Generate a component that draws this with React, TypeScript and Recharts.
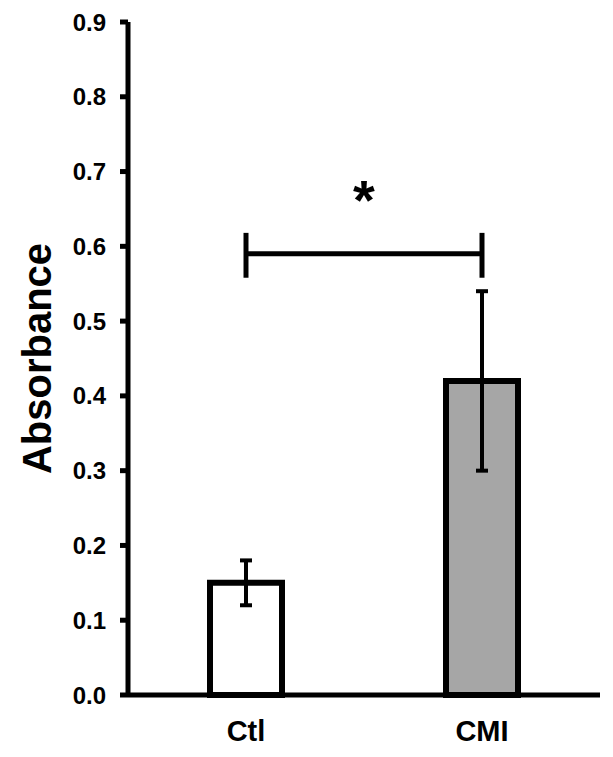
import React from 'react';
import { BarChart, Bar, XAxis, YAxis, Cell, ErrorBar, ReferenceLine } from 'recharts';

const categories = ['Ctl', 'CMI'];
const means = [0.15, 0.42];
const errors = [0.03, 0.12];
const barFills = ['#ffffff', '#a6a6a6'];
const yTicks = [0, 0.1, 0.2, 0.3, 0.4, 0.5, 0.6, 0.7, 0.8, 0.9];
const yLabel = 'Absorbance';
const bracketY = 0.59;
const bracketCapLow = 0.558;
const bracketCapHigh = 0.618;
const starY = 0.663;
const starText = '*';

const data = categories.map((c, i) => ({ name: c, value: means[i], err: errors[i] }));

const FONT = '"Liberation Sans", Arial, sans-serif';

const YLabel = (props: any) => {
  const vb = props.viewBox || { x: 0, y: 0, width: 0, height: 0 };
  const cx = vb.x + 29;
  const cy = vb.y + vb.height / 2;
  return (
    <text
      x={cx}
      y={cy}
      transform={`rotate(-90, ${cx}, ${cy})`}
      textAnchor="middle"
      dominantBaseline="central"
      fontFamily={FONT}
      fontWeight="bold"
      fontSize={40}
      fill="#000"
    >
      {yLabel}
    </text>
  );
};

export default function App() {
  return (
    <BarChart
      width={605}
      height={749}
      data={data}
      margin={{ top: 14, right: 13, left: 0, bottom: 2 }}
      barCategoryGap={0}
    >
      <XAxis
        dataKey="name"
        stroke="#000"
        strokeWidth={5}
        axisLine={{ stroke: '#000', strokeWidth: 5 }}
        tickLine={false}
        tickSize={0}
        tickMargin={25}
        height={60}
        tick={{ fill: '#000', fontFamily: FONT, fontWeight: 'bold', fontSize: 29, strokeWidth: 0 }}
      />
      <YAxis
        domain={[0, 0.9]}
        ticks={yTicks}
        interval={0}
        width={120}
        stroke="#000"
        strokeWidth={5}
        tickFormatter={(v: number) => v.toFixed(1)}
        axisLine={{ stroke: '#000', strokeWidth: 5 }}
        tickLine={{ stroke: '#000', strokeWidth: 5 }}
        tickSize={8}
        tickMargin={14}
        tick={{ fill: '#000', fontFamily: FONT, fontWeight: 'bold', fontSize: 24, strokeWidth: 0 }}
        label={<YLabel />}
      />
      <Bar dataKey="value" barSize={72} stroke="#000" strokeWidth={6} isAnimationActive={false}>
        {data.map((d, i) => (
          <Cell key={d.name} fill={barFills[i]} />
        ))}
        <ErrorBar dataKey="err" width={6} stroke="#000" strokeWidth={4} direction="y" />
      </Bar>
      <ReferenceLine
        segment={[{ x: categories[0], y: bracketY }, { x: categories[1], y: bracketY }]}
        stroke="#000"
        strokeWidth={5}
        ifOverflow="visible"
      />
      <ReferenceLine
        segment={[{ x: categories[0], y: bracketCapLow }, { x: categories[0], y: bracketCapHigh }]}
        stroke="#000"
        strokeWidth={5}
        ifOverflow="visible"
      />
      <ReferenceLine
        segment={[{ x: categories[1], y: bracketCapLow }, { x: categories[1], y: bracketCapHigh }]}
        stroke="#000"
        strokeWidth={5}
        ifOverflow="visible"
      />
      <ReferenceLine
        segment={[{ x: categories[0], y: starY }, { x: categories[1], y: starY }]}
        stroke="none"
        ifOverflow="visible"
        label={{
          value: starText,
          position: 'center',
          fill: '#000',
          fontFamily: FONT,
          fontWeight: 'bold',
          fontSize: 56,
        }}
      />
    </BarChart>
  );
}
